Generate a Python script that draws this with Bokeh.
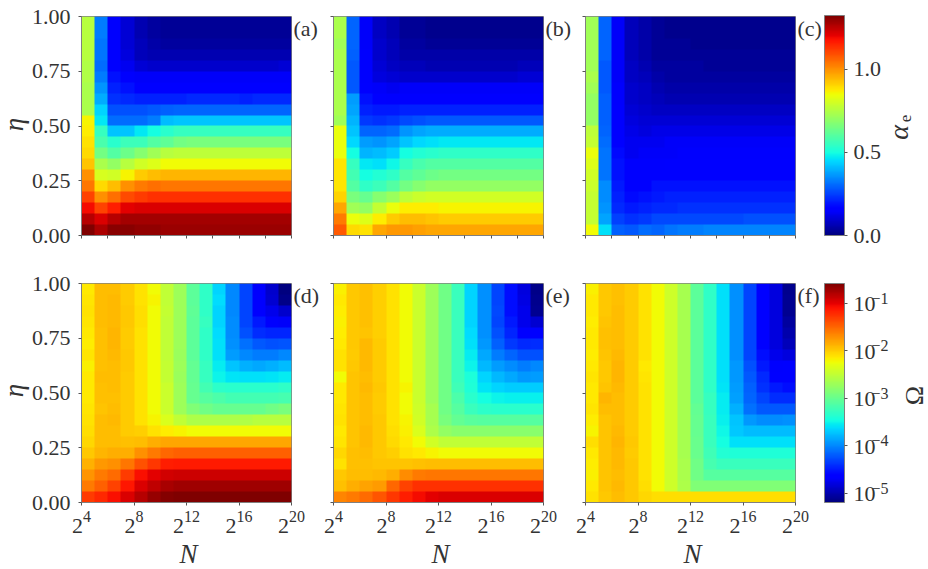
import numpy as np
from bokeh.embed import file_html
from bokeh.resources import INLINE
from bokeh.plotting import figure
from bokeh.layouts import row, column
from bokeh.models import (LinearColorMapper, LogColorMapper, ColorBar, FixedTicker, Label, Range1d,
                          PrintfTickFormatter, CustomLabelingPolicy)

# exponent of N on the x axis, eta on the y axis; rows below run from eta=1 (top) to eta=0 (bottom)
x_ticks_top = [4, 6, 8, 10, 12, 14, 16, 18, 20]
x_ticks_bottom = [4, 8, 12, 16, 20]
y_ticks = [0, 0.25, 0.5, 0.75, 1.0]
alpha_ticks = [0, 0.5, 1.0]
omega_exponents = [-5, -4, -3, -2, -1]
panel_tags = ["(a)", "(b)", "(c)", "(d)", "(e)", "(f)"]
alpha_low, alpha_high = 0.0, 1.325
log_omega_low, log_omega_high = -5.19, -0.58

alpha_a = [
 [.76,.33,.15,.10,.06,.04,.03,.03,.03,.03,.03,.03,.03,.03,.03,.03],
 [.76,.33,.15,.10,.06,.04,.03,.03,.03,.03,.03,.03,.03,.03,.03,.03],
 [.76,.32,.15,.10,.07,.05,.04,.04,.04,.04,.04,.04,.04,.04,.04,.04],
 [.76,.32,.16,.11,.07,.06,.06,.06,.06,.06,.06,.06,.06,.06,.06,.06],
 [.75,.31,.17,.13,.10,.09,.09,.09,.09,.09,.09,.09,.09,.09,.09,.10],
 [.75,.33,.19,.15,.14,.14,.14,.14,.14,.14,.14,.14,.14,.14,.14,.14],
 [.74,.36,.21,.19,.17,.16,.16,.16,.16,.17,.17,.17,.17,.17,.17,.17],
 [.74,.39,.23,.22,.21,.21,.21,.21,.22,.22,.22,.22,.21,.22,.22,.22],
 [.74,.44,.27,.27,.27,.28,.29,.30,.30,.30,.30,.30,.30,.30,.30,.30],
 [.86,.47,.31,.31,.31,.33,.41,.42,.42,.42,.42,.42,.42,.42,.42,.42],
 [.87,.55,.42,.42,.47,.50,.53,.55,.55,.55,.55,.55,.55,.55,.55,.55],
 [.89,.58,.53,.56,.56,.60,.62,.65,.66,.66,.66,.66,.66,.66,.66,.66],
 [.90,.65,.60,.64,.68,.72,.76,.77,.77,.77,.77,.77,.77,.77,.77,.77],
 [.93,.74,.70,.76,.80,.82,.85,.85,.85,.85,.85,.85,.85,.85,.85,.85],
 [1.0,.81,.80,.86,.92,.94,.95,.95,.95,.95,.95,.95,.95,.95,.95,.95],
 [1.04,.90,.94,1.0,1.03,1.05,1.04,1.04,1.04,1.04,1.04,1.04,1.04,1.04,1.04,1.04],
 [1.11,1.0,1.05,1.10,1.12,1.135,1.135,1.135,1.135,1.135,1.135,1.135,1.135,1.135,1.135,1.135],
 [1.19,1.11,1.16,1.21,1.22,1.22,1.22,1.22,1.22,1.22,1.22,1.22,1.22,1.22,1.22,1.22],
 [1.26,1.22,1.26,1.28,1.28,1.28,1.28,1.28,1.28,1.28,1.28,1.28,1.28,1.28,1.28,1.28],
 [1.325,1.27,1.31,1.31,1.30,1.30,1.29,1.29,1.29,1.29,1.29,1.29,1.29,1.29,1.29,1.29],
]
alpha_b = [
 [.74,.30,.14,.08,.06,.03,.03,.02,.02,.02,.02,.02,.02,.02,.02,.02],
 [.74,.30,.14,.08,.06,.03,.03,.02,.02,.02,.02,.02,.02,.02,.02,.02],
 [.72,.30,.14,.09,.07,.04,.04,.03,.03,.03,.03,.03,.03,.03,.03,.03],
 [.74,.29,.15,.09,.07,.05,.05,.05,.05,.05,.05,.05,.05,.05,.05,.05],
 [.74,.28,.15,.10,.08,.07,.07,.06,.06,.06,.06,.06,.06,.06,.07,.07],
 [.74,.28,.15,.11,.10,.09,.09,.09,.09,.09,.09,.09,.09,.09,.10,.10],
 [.74,.28,.17,.14,.13,.14,.14,.14,.14,.14,.14,.14,.14,.14,.14,.14],
 [.74,.37,.19,.17,.15,.16,.17,.17,.17,.17,.17,.17,.17,.17,.17,.17],
 [.74,.38,.21,.20,.20,.21,.21,.21,.21,.21,.21,.21,.21,.21,.21,.21],
 [.72,.40,.24,.23,.24,.26,.27,.28,.28,.28,.28,.28,.28,.28,.28,.28],
 [.84,.42,.30,.30,.31,.36,.38,.39,.39,.39,.39,.39,.39,.39,.39,.39],
 [.84,.45,.37,.36,.38,.42,.45,.46,.47,.47,.47,.47,.47,.47,.47,.47],
 [.84,.50,.40,.41,.43,.50,.52,.53,.54,.54,.54,.54,.54,.54,.54,.54],
 [.88,.55,.47,.46,.49,.55,.58,.60,.60,.60,.60,.60,.60,.60,.60,.60],
 [.88,.57,.50,.52,.54,.60,.62,.64,.65,.65,.65,.65,.65,.65,.65,.65],
 [.88,.60,.54,.56,.60,.65,.68,.70,.70,.70,.70,.70,.70,.70,.70,.70],
 [.91,.66,.63,.68,.71,.77,.79,.80,.80,.80,.80,.80,.80,.80,.80,.80],
 [.97,.72,.70,.78,.84,.87,.87,.87,.86,.86,.86,.86,.86,.86,.86,.86],
 [1.03,.84,.82,.87,.92,.94,.94,.93,.92,.92,.92,.92,.92,.92,.92,.92],
 [1.08,.90,.89,.97,.99,.99,.98,.97,.97,.97,.97,.97,.97,.97,.97,.97],
]
alpha_c = [
 [.72,.30,.14,.07,.05,.03,.02,.02,.02,.02,.02,.02,.02,.02,.02,.02],
 [.72,.30,.14,.07,.05,.03,.02,.02,.02,.02,.02,.02,.02,.02,.02,.02],
 [.72,.30,.14,.07,.05,.03,.03,.03,.02,.02,.02,.02,.02,.02,.02,.02],
 [.72,.30,.14,.07,.05,.03,.03,.03,.03,.03,.03,.03,.03,.03,.03,.03],
 [.72,.28,.14,.08,.06,.04,.04,.04,.04,.03,.03,.03,.03,.03,.03,.03],
 [.74,.28,.14,.08,.07,.05,.04,.04,.04,.04,.04,.04,.04,.04,.04,.04],
 [.72,.28,.15,.09,.08,.06,.05,.05,.05,.05,.05,.05,.05,.05,.05,.05],
 [.70,.29,.15,.09,.08,.07,.06,.06,.06,.06,.06,.06,.06,.06,.06,.06],
 [.70,.29,.16,.10,.09,.08,.08,.08,.08,.08,.08,.08,.08,.08,.08,.08],
 [.70,.29,.17,.11,.10,.10,.10,.10,.10,.10,.10,.10,.10,.10,.10,.10],
 [.77,.30,.17,.12,.11,.12,.12,.12,.12,.12,.12,.12,.12,.12,.12,.12],
 [.78,.31,.17,.13,.13,.13,.14,.14,.14,.14,.14,.14,.14,.14,.14,.14],
 [.84,.32,.18,.13,.14,.14,.14,.15,.15,.15,.15,.15,.15,.15,.15,.15],
 [.82,.32,.19,.15,.15,.15,.16,.16,.16,.16,.16,.16,.16,.16,.16,.16],
 [.80,.32,.19,.16,.16,.17,.17,.17,.17,.17,.17,.17,.17,.17,.17,.17],
 [.79,.35,.20,.17,.17,.19,.19,.19,.19,.19,.19,.19,.19,.19,.19,.19],
 [.78,.35,.21,.18,.19,.20,.21,.21,.21,.21,.21,.21,.21,.21,.21,.21],
 [.78,.36,.22,.20,.21,.22,.22,.23,.23,.23,.23,.23,.23,.23,.23,.23],
 [.78,.38,.25,.23,.24,.26,.26,.26,.26,.26,.26,.26,.27,.27,.27,.27],
 [.85,.46,.29,.28,.31,.30,.32,.33,.33,.34,.34,.34,.34,.34,.34,.34],
]
log_omega_d = [
 [-2.13,-1.93,-1.93,-2.00,-2.10,-2.22,-2.50,-2.70,-3.05,-3.30,-3.65,-4.00,-4.30,-4.68,-4.87,-5.19],
 [-2.12,-1.93,-1.91,-2.00,-2.10,-2.20,-2.50,-2.70,-3.05,-3.30,-3.62,-4.00,-4.30,-4.65,-4.85,-5.15],
 [-2.10,-1.93,-1.90,-1.98,-2.08,-2.22,-2.48,-2.70,-3.03,-3.30,-3.65,-4.00,-4.30,-4.63,-4.75,-4.87],
 [-2.12,-1.93,-1.90,-1.98,-2.08,-2.22,-2.50,-2.70,-3.05,-3.28,-3.65,-3.98,-4.30,-4.50,-4.68,-4.70],
 [-2.13,-1.94,-1.89,-2.00,-2.10,-2.22,-2.50,-2.70,-3.05,-3.30,-3.62,-3.98,-4.25,-4.40,-4.45,-4.45],
 [-2.15,-1.94,-1.88,-2.00,-2.10,-2.22,-2.50,-2.70,-3.05,-3.30,-3.60,-3.95,-4.10,-4.20,-4.25,-4.22],
 [-2.12,-1.94,-1.91,-1.98,-2.11,-2.22,-2.50,-2.72,-3.05,-3.30,-3.60,-3.90,-4.00,-4.05,-4.05,-4.00],
 [-2.18,-1.94,-1.93,-1.98,-2.11,-2.22,-2.48,-2.70,-3.02,-3.28,-3.55,-3.72,-3.82,-3.85,-3.82,-3.75],
 [-2.13,-1.93,-1.93,-2.00,-2.10,-2.22,-2.48,-2.72,-3.02,-3.28,-3.50,-3.58,-3.60,-3.60,-3.58,-3.55],
 [-2.14,-1.94,-1.93,-2.00,-2.10,-2.22,-2.45,-2.70,-3.00,-3.20,-3.32,-3.35,-3.35,-3.35,-3.35,-3.30],
 [-2.13,-1.94,-1.94,-2.00,-2.10,-2.22,-2.45,-2.70,-3.00,-3.10,-3.15,-3.20,-3.20,-3.20,-3.20,-3.18],
 [-2.12,-1.95,-1.93,-2.00,-2.10,-2.22,-2.45,-2.70,-2.85,-2.95,-3.00,-3.00,-3.00,-3.00,-2.95,-2.90],
 [-2.10,-1.93,-1.91,-2.00,-2.10,-2.20,-2.35,-2.50,-2.60,-2.60,-2.60,-2.60,-2.58,-2.55,-2.55,-2.55],
 [-2.08,-1.93,-1.93,-2.00,-2.02,-2.10,-2.15,-2.20,-2.22,-2.22,-2.22,-2.22,-2.22,-2.22,-2.22,-2.22],
 [-2.05,-1.93,-1.93,-1.94,-1.93,-1.85,-1.82,-1.82,-1.82,-1.82,-1.82,-1.82,-1.82,-1.82,-1.82,-1.82],
 [-1.97,-1.88,-1.85,-1.85,-1.70,-1.60,-1.50,-1.48,-1.48,-1.48,-1.48,-1.48,-1.48,-1.48,-1.48,-1.48],
 [-1.87,-1.75,-1.70,-1.58,-1.40,-1.28,-1.15,-1.13,-1.13,-1.13,-1.13,-1.13,-1.13,-1.13,-1.13,-1.13],
 [-1.72,-1.60,-1.52,-1.30,-1.08,-0.98,-0.92,-0.90,-0.90,-0.90,-0.90,-0.90,-0.90,-0.90,-0.90,-0.90],
 [-1.60,-1.48,-1.32,-1.12,-0.95,-0.85,-0.75,-0.72,-0.72,-0.72,-0.72,-0.72,-0.72,-0.72,-0.72,-0.72],
 [-1.30,-1.20,-1.08,-0.95,-0.80,-0.68,-0.60,-0.58,-0.58,-0.58,-0.58,-0.58,-0.58,-0.58,-0.58,-0.58],
]
log_omega_e = [
 [-2.18,-1.97,-1.94,-2.02,-2.10,-2.22,-2.45,-2.70,-2.95,-3.25,-3.65,-3.95,-4.30,-4.55,-4.80,-5.15],
 [-2.13,-1.97,-1.94,-2.02,-2.10,-2.22,-2.45,-2.70,-2.95,-3.25,-3.65,-3.95,-4.30,-4.55,-4.78,-5.12],
 [-2.15,-1.97,-1.94,-2.02,-2.10,-2.22,-2.45,-2.70,-2.95,-3.25,-3.65,-3.95,-4.28,-4.55,-4.75,-5.10],
 [-2.18,-1.97,-1.94,-2.02,-2.10,-2.22,-2.45,-2.70,-2.95,-3.25,-3.65,-3.95,-4.30,-4.50,-4.75,-4.85],
 [-2.15,-1.97,-1.95,-2.02,-2.10,-2.22,-2.45,-2.70,-2.95,-3.25,-3.62,-3.95,-4.25,-4.45,-4.65,-4.65],
 [-2.13,-1.97,-1.90,-2.00,-2.10,-2.22,-2.45,-2.70,-2.95,-3.25,-3.60,-3.92,-4.18,-4.35,-4.42,-4.40],
 [-2.10,-2.00,-1.90,-2.00,-2.10,-2.22,-2.45,-2.70,-2.95,-3.25,-3.55,-3.85,-4.05,-4.15,-4.25,-4.25],
 [-2.10,-1.97,-1.90,-2.00,-2.11,-2.22,-2.45,-2.70,-2.95,-3.25,-3.50,-3.78,-3.90,-3.98,-4.05,-4.00],
 [-2.22,-1.95,-1.93,-2.00,-2.10,-2.22,-2.45,-2.70,-2.95,-3.25,-3.42,-3.65,-3.78,-3.85,-3.92,-3.90],
 [-2.13,-1.95,-1.90,-1.98,-2.10,-2.20,-2.45,-2.70,-2.95,-3.22,-3.40,-3.58,-3.65,-3.68,-3.68,-3.68],
 [-2.13,-1.95,-1.93,-2.00,-2.10,-2.22,-2.45,-2.70,-2.95,-3.15,-3.35,-3.45,-3.50,-3.53,-3.53,-3.53],
 [-2.12,-1.95,-1.93,-2.00,-2.10,-2.22,-2.42,-2.65,-2.95,-3.10,-3.25,-3.32,-3.35,-3.35,-3.35,-3.35],
 [-2.10,-1.95,-1.93,-1.98,-2.10,-2.20,-2.40,-2.65,-2.90,-3.02,-3.08,-3.10,-3.10,-3.10,-3.10,-3.10],
 [-2.14,-1.95,-1.90,-1.98,-2.08,-2.18,-2.35,-2.60,-2.75,-2.80,-2.80,-2.80,-2.80,-2.80,-2.80,-2.80],
 [-2.12,-1.95,-1.90,-1.98,-2.06,-2.13,-2.22,-2.40,-2.50,-2.50,-2.50,-2.50,-2.50,-2.50,-2.50,-2.50],
 [-2.05,-1.94,-1.93,-1.97,-2.02,-2.10,-2.13,-2.20,-2.22,-2.22,-2.22,-2.22,-2.22,-2.22,-2.22,-2.22],
 [-2.10,-1.94,-1.94,-1.95,-1.95,-1.95,-1.94,-1.92,-1.92,-1.92,-1.92,-1.92,-1.92,-1.92,-1.92,-1.92],
 [-1.97,-1.93,-1.93,-1.90,-1.85,-1.68,-1.60,-1.58,-1.58,-1.58,-1.58,-1.58,-1.58,-1.58,-1.58,-1.58],
 [-1.94,-1.85,-1.80,-1.76,-1.50,-1.32,-1.24,-1.24,-1.24,-1.24,-1.24,-1.24,-1.24,-1.24,-1.24,-1.24],
 [-1.65,-1.60,-1.52,-1.42,-1.28,-1.15,-1.05,-0.98,-0.95,-0.95,-0.95,-0.95,-0.95,-0.95,-0.95,-0.95],
]
log_omega_f = [
 [-2.18,-1.97,-1.94,-2.00,-2.10,-2.22,-2.42,-2.65,-3.05,-3.30,-3.60,-3.95,-4.30,-4.60,-4.80,-5.12],
 [-2.13,-1.97,-1.94,-2.00,-2.10,-2.22,-2.42,-2.65,-3.05,-3.30,-3.60,-3.95,-4.30,-4.60,-4.80,-5.10],
 [-2.13,-1.97,-1.93,-2.00,-2.10,-2.22,-2.42,-2.65,-3.05,-3.30,-3.60,-3.95,-4.30,-4.60,-4.80,-5.10],
 [-2.15,-1.95,-1.93,-2.00,-2.10,-2.22,-2.42,-2.65,-3.05,-3.30,-3.60,-3.95,-4.30,-4.60,-4.80,-5.05],
 [-2.13,-1.94,-1.93,-2.00,-2.10,-2.22,-2.42,-2.65,-3.05,-3.30,-3.60,-3.95,-4.30,-4.60,-4.80,-5.00],
 [-2.14,-1.94,-1.93,-2.00,-2.10,-2.22,-2.42,-2.65,-3.05,-3.30,-3.60,-3.95,-4.30,-4.60,-4.80,-4.95],
 [-2.16,-1.95,-1.90,-2.00,-2.10,-2.22,-2.42,-2.65,-3.05,-3.30,-3.60,-3.95,-4.30,-4.55,-4.75,-4.80],
 [-2.13,-1.97,-1.89,-2.00,-2.13,-2.22,-2.42,-2.65,-3.05,-3.30,-3.60,-3.92,-4.25,-4.50,-4.68,-4.65],
 [-2.12,-1.97,-1.89,-2.00,-2.12,-2.22,-2.42,-2.65,-3.05,-3.30,-3.60,-3.92,-4.20,-4.42,-4.62,-4.65],
 [-2.13,-1.95,-1.90,-2.00,-2.10,-2.22,-2.42,-2.65,-3.05,-3.30,-3.58,-3.90,-4.18,-4.38,-4.50,-4.55],
 [-2.14,-1.88,-1.93,-2.00,-2.10,-2.22,-2.42,-2.65,-3.05,-3.28,-3.55,-3.88,-4.15,-4.30,-4.40,-4.40],
 [-2.12,-1.93,-1.93,-2.00,-2.10,-2.22,-2.42,-2.65,-3.02,-3.28,-3.55,-3.82,-4.10,-4.20,-4.20,-4.20],
 [-2.15,-1.95,-1.93,-2.00,-2.10,-2.22,-2.42,-2.65,-3.00,-3.25,-3.52,-3.72,-3.92,-3.98,-3.98,-3.95],
 [-2.20,-1.95,-1.90,-2.00,-2.10,-2.22,-2.42,-2.65,-3.00,-3.25,-3.48,-3.70,-3.75,-3.75,-3.75,-3.75],
 [-2.08,-1.95,-1.89,-1.98,-2.10,-2.22,-2.42,-2.65,-2.98,-3.25,-3.45,-3.60,-3.60,-3.60,-3.60,-3.60],
 [-2.14,-1.95,-1.90,-2.00,-2.10,-2.22,-2.42,-2.65,-2.98,-3.22,-3.38,-3.40,-3.40,-3.40,-3.40,-3.40],
 [-2.16,-1.95,-1.90,-1.98,-2.10,-2.22,-2.42,-2.62,-2.95,-3.18,-3.25,-3.25,-3.25,-3.25,-3.25,-3.25],
 [-2.18,-1.95,-1.93,-1.97,-2.10,-2.22,-2.42,-2.62,-2.95,-3.10,-3.10,-3.10,-3.10,-3.10,-3.10,-3.10],
 [-2.13,-1.95,-1.90,-1.97,-2.08,-2.22,-2.42,-2.60,-2.85,-2.85,-2.85,-2.85,-2.85,-2.85,-2.85,-2.85],
 [-2.10,-1.97,-1.93,-1.97,-2.05,-2.08,-2.08,-2.08,-2.08,-2.08,-2.08,-2.08,-2.08,-2.08,-2.08,-2.08],
]

# matplotlib "jet" colour ramp
t = np.linspace(0, 1, 256)
red = np.interp(t, [0, .35, .66, .89, 1], [0, 0, 1, 1, .5])
green = np.interp(t, [0, .125, .375, .64, .91, 1], [0, 0, 1, 1, 0, 0])
blue = np.interp(t, [0, .11, .34, .65, 1], [.5, 1, 1, 0, 0])
jet = ["#%02x%02x%02x" % (int(r * 255), int(g * 255), int(b * 255)) for r, g, b in zip(red, green, blue)]

alpha_mapper = LinearColorMapper(palette=jet, low=alpha_low, high=alpha_high)
omega_mapper = LogColorMapper(palette=jet, low=10 ** log_omega_low, high=10 ** log_omega_high)

FONT = "Liberation Serif"
TEXT = "#333333"
EDGE = "#808080"
LEFT_W, MID_W, RIGHT_B = 81, 13, 29
FRAME_W = 210
ROW1_H, ROW2_H, PAGE_SHIFT = 261, 311, 3


def hide_labels():
    return CustomLabelingPolicy(code="for (const i of Array.from(indices)) { indices.unset(i); } return indices;")


def panel(data, mapper, left_border, top, bottom, bottom_row, first):
    p = figure(width=left_border + FRAME_W + RIGHT_B, height=top + 222 + bottom,
               x_range=Range1d(4, 20), y_range=Range1d(0, 1),
               output_backend="svg", toolbar_location=None,
               min_border_left=left_border, min_border_right=RIGHT_B,
               min_border_top=top, min_border_bottom=bottom)
    p.image(image=[np.array(data, dtype=float)[::-1]], x=4, y=0, dw=16, dh=1, color_mapper=mapper)
    p.grid.visible = False
    p.outline_line_color = EDGE
    p.outline_line_width = 1
    for ax in (p.xaxis[0], p.yaxis[0]):
        ax.axis_line_color = EDGE
        ax.major_tick_line_color = "#555555"
        ax.major_tick_out = 3
        ax.major_tick_in = 0
        ax.minor_tick_line_color = None
        ax.major_label_text_font = FONT
        ax.major_label_text_color = TEXT
        ax.major_label_text_font_size = "22px"
        ax.major_label_standoff = 8
    p.yaxis[0].major_label_orientation = "horizontal"
    p.yaxis[0].ticker = FixedTicker(ticks=y_ticks)
    p.yaxis[0].formatter = PrintfTickFormatter(format="%.2f")
    if not first:
        p.yaxis[0].major_label_policy = hide_labels()
        p.yaxis[0].major_label_text_font_size = "1px"
        p.yaxis[0].major_label_standoff = 0
    p.xaxis[0].major_label_policy = hide_labels()
    p.xaxis[0].major_label_text_font_size = "1px"
    p.xaxis[0].major_label_standoff = 0
    p.xaxis[0].ticker = FixedTicker(ticks=x_ticks_bottom if bottom_row else x_ticks_top)
    return p


def colour_key(mapper, ticker, bar_h, top, bottom):
    p = figure(width=104, height=top + bar_h + bottom, x_range=Range1d(0, 104), y_range=Range1d(0, bar_h),
               output_backend="svg", toolbar_location=None,
               min_border_left=0, min_border_right=0, min_border_top=top, min_border_bottom=bottom)
    p.axis.visible = False
    p.grid.visible = False
    p.outline_line_color = None
    bar = ColorBar(color_mapper=mapper, ticker=ticker, width=20, height=bar_h, location=(0, 0), padding=0,
                   major_tick_out=3, major_tick_in=0, major_tick_line_color="#555555",
                   minor_tick_line_color=None, bar_line_color=EDGE, label_standoff=6,
                   major_label_text_font=FONT, major_label_text_font_size="22px",
                   major_label_text_color=TEXT, background_fill_color=None, border_line_color=None)
    p.add_layout(bar, "center")
    return p, bar


pa = panel(alpha_a, alpha_mapper, LEFT_W, 16, 23, False, True)
pb = panel(alpha_b, alpha_mapper, MID_W, 16, 23, False, False)
pc = panel(alpha_c, alpha_mapper, MID_W, 16, 23, False, False)

omega_d = (10.0 ** np.array(log_omega_d)).tolist()
omega_e = (10.0 ** np.array(log_omega_e)).tolist()
omega_f = (10.0 ** np.array(log_omega_f)).tolist()
pd = panel(omega_d, omega_mapper, LEFT_W, 22, 67, True, True)
pe = panel(omega_e, omega_mapper, MID_W, 22, 67, True, False)
pf = panel(omega_f, omega_mapper, MID_W, 22, 67, True, False)

key_top, bar_top = colour_key(alpha_mapper, FixedTicker(ticks=alpha_ticks), 220, 19, 22)
bar_top.formatter = PrintfTickFormatter(format="%.1f")
key_bot, bar_bot = colour_key(omega_mapper, FixedTicker(ticks=[10.0 ** e for e in omega_exponents]), 219, 25, 67)
bar_bot.major_label_policy = hide_labels()
bar_bot.major_label_text_font_size = "1px"

# transparent sheet over the whole page that carries the lettering outside the heat maps
sheet = figure(width=928, height=ROW1_H + ROW2_H, x_range=Range1d(0, 928), y_range=Range1d(569, -PAGE_SHIFT),
               output_backend="svg", toolbar_location=None, min_border=0,
               background_fill_color=None, border_fill_color=None, outline_line_color=None,
               margin=(-(ROW1_H + ROW2_H), 0, 0, 0))
sheet.axis.visible = False
sheet.grid.visible = False


def put(x, y, text, size, **kw):
    kw.setdefault("text_baseline", "middle")
    sheet.add_layout(Label(x=x, y=y, text=text, text_font=FONT, text_font_size=size, text_color=TEXT, **kw))


panel_lefts = [81, 333, 585]
for i, left in enumerate(panel_lefts):
    put(left + FRAME_W + 2, 28, panel_tags[i], "22px")
    put(left + FRAME_W + 2, 295, panel_tags[i + 3], "22px")
    put(left + FRAME_W / 2 + 2, 553, "N", "27px", text_font_style="italic", text_align="center")
    for tick in x_ticks_bottom:
        exponent = str(tick)
        w = 11 + 8 * len(exponent)
        tx = left + (tick - 4) / 16 * FRAME_W
        put(tx - w / 2, 525, "2", "22px")
        put(tx - w / 2 + 11, 516, exponent, "16px")
for y_mid in (124, 390):
    put(13, y_mid, "η", "27px", text_font_style="italic", angle=np.pi / 2, text_align="center")
put(898, 132, "α", "28px", text_font_style="italic", angle=np.pi / 2, text_align="center")
put(905, 118, "e", "17px", angle=np.pi / 2, text_align="center")
put(914, 395, "Ω", "26px", angle=np.pi / 2, text_align="center")
for e in omega_exponents:
    ty = 502 - (e - log_omega_low) / (log_omega_high - log_omega_low) * 219
    put(853, ty + 1, "10", "22px")
    put(871, ty - 5, "−" + str(-e), "16px")

page = column(row(pa, pb, pc, key_top, spacing=0), row(pd, pe, pf, key_bot, spacing=0), sheet,
              spacing=0, margin=(-PAGE_SHIFT, 0, 0, 0))
open("out.html", "w").write(file_html(page, INLINE))
